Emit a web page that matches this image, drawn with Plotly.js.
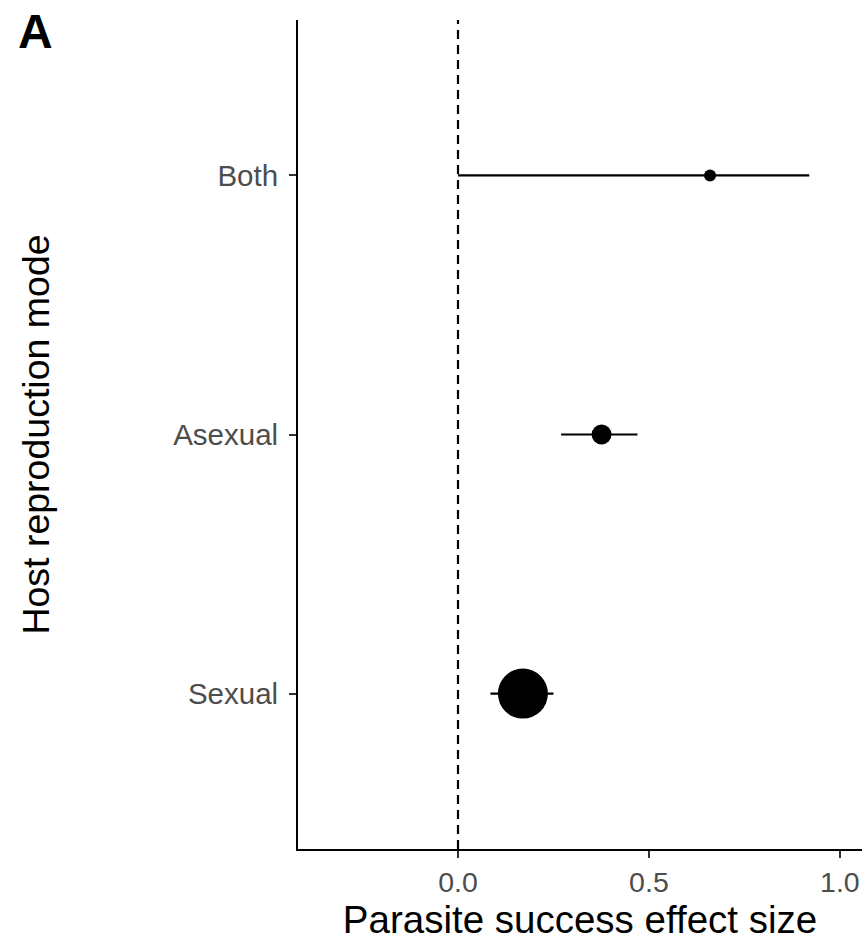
<!DOCTYPE html>
<html>
<head>
<meta charset="utf-8">
<script src="https://cdn.plot.ly/plotly-3.0.1.min.js"></script>
<style>html,body{margin:0;padding:0;background:#fff;}#chart{width:867px;height:945px;}</style>
</head>
<body>
<div id="chart"></div>
<script>
// Data
const categories = ["Sexual", "Asexual", "Both"];
const effectSize = [0.170, 0.376, 0.660];
const ciLower = [0.085, 0.270, 0.000];
const ciUpper = [0.250, 0.470, 0.920];
const sampleWeight = [50, 20, 12];
const referenceValue = 0;
const xTickVals = [0, 0.5, 1.0];
const xTickText = ["0.0", "0.5", "1.0"];

const trace = {
  type: "scatter",
  mode: "markers",
  x: effectSize,
  y: categories,
  marker: { color: "#000", size: sampleWeight, opacity: 1, line: { width: 0 } },
  error_x: {
    type: "data",
    symmetric: false,
    array: effectSize.map((v, i) => ciUpper[i] - v),
    arrayminus: effectSize.map((v, i) => v - ciLower[i]),
    color: "#000",
    thickness: 2.2,
    width: 0
  },
  hoverinfo: "x+y",
  showlegend: false
};

const layout = {
  width: 867,
  height: 945,
  margin: { l: 298, r: 5, t: 20, b: 96 },
  paper_bgcolor: "#fff",
  plot_bgcolor: "#fff",
  font: { family: "Liberation Sans, Arial, sans-serif", color: "#000" },
  title: {
    text: "<b>A</b>",
    xref: "container", yref: "container",
    x: 18 / 867, y: 1 - 14 / 945,
    xanchor: "left", yanchor: "top",
    font: { size: 48, color: "#000", family: "Liberation Sans, Arial, sans-serif" }
  },
  xaxis: {
    range: [-0.419, 1.058],
    tickvals: xTickVals,
    ticktext: xTickText,
    ticks: "outside",
    ticklen: 7,
    tickwidth: 2,
    tickcolor: "#333",
    tickfont: { size: 28.5, color: "#4d4d4d" },
    showline: true,
    linecolor: "#000",
    linewidth: 2,
    showgrid: false,
    zeroline: false,
    title: { text: "Parasite success effect size", font: { size: 38.5, color: "#000" }, standoff: 6 }
  },
  yaxis: {
    type: "category",
    categoryorder: "array",
    categoryarray: categories,
    range: [-0.6, 2.6],
    ticks: "outside",
    ticklen: 7,
    tickwidth: 2,
    tickcolor: "#333",
    ticklabelstandoff: 5,
    tickfont: { size: 29.5, color: "#4d4d4d" },
    showline: true,
    linecolor: "#000",
    linewidth: 2,
    showgrid: false,
    zeroline: false,
    title: { text: "Host reproduction mode", font: { size: 37.5, color: "#000" }, standoff: 112 }
  },
  shapes: [{
    type: "line",
    xref: "x", yref: "paper",
    x0: referenceValue, x1: referenceValue, y0: 0, y1: 1,
    line: { color: "#000", width: 2.2, dash: "9px,6px" },
    layer: "below"
  }]
};

Plotly.newPlot("chart", [trace], layout, { displayModeBar: false, staticPlot: true });
</script>
</body>
</html>
